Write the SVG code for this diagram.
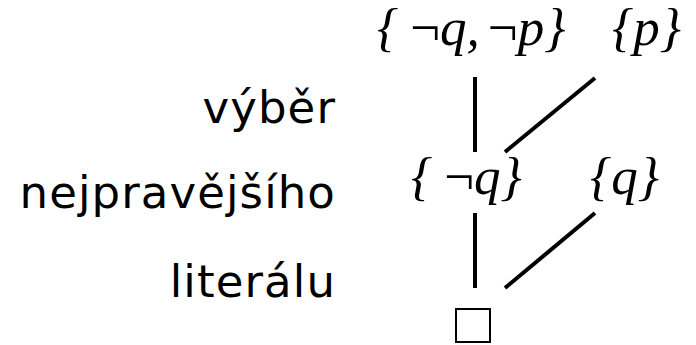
<svg xmlns="http://www.w3.org/2000/svg" width="696" height="345" viewBox="0 0 696 345">
<style>
.lbl{font-family:"DejaVu Sans",sans-serif;font-size:45px;letter-spacing:1.1px;fill:#000;text-anchor:end}
.m{font-family:"Liberation Serif","Times New Roman",serif;font-size:53px;font-style:italic;fill:#000}
.n{font-style:normal}
.e{stroke:#000;stroke-width:4;fill:none}
</style>
<rect width="696" height="345" fill="#fff"/>
<g id="label">
<text class="lbl" x="336" y="123">výběr</text>
<text class="lbl" x="336" y="208">nejpravějšího</text>
<text class="lbl" x="336" y="297">literálu</text>
</g>
<g id="n-nq-np"><text class="m" x="377" y="45">{<tspan class="n" dx="12">¬</tspan>q,<tspan class="n" dx="8">¬</tspan>p}</text></g>
<g id="n-p"><text class="m" x="612" y="45">{p}</text></g>
<g id="n-nq"><text class="m" x="411" y="194">{<tspan class="n" dx="12">¬</tspan>q}</text></g>
<g id="n-q"><text class="m" x="590" y="194">{q}</text></g>
<g id="n-empty"><rect x="456" y="309" width="34" height="33" fill="none" stroke="#000" stroke-width="2"/></g>
<g id="edges">
<line class="e" x1="475" y1="77" x2="475" y2="152"/>
<line class="e" x1="505" y1="152" x2="595" y2="78"/>
<line class="e" x1="475" y1="213" x2="475" y2="288"/>
<line class="e" x1="505" y1="288" x2="595" y2="213"/>
</g>
</svg>
